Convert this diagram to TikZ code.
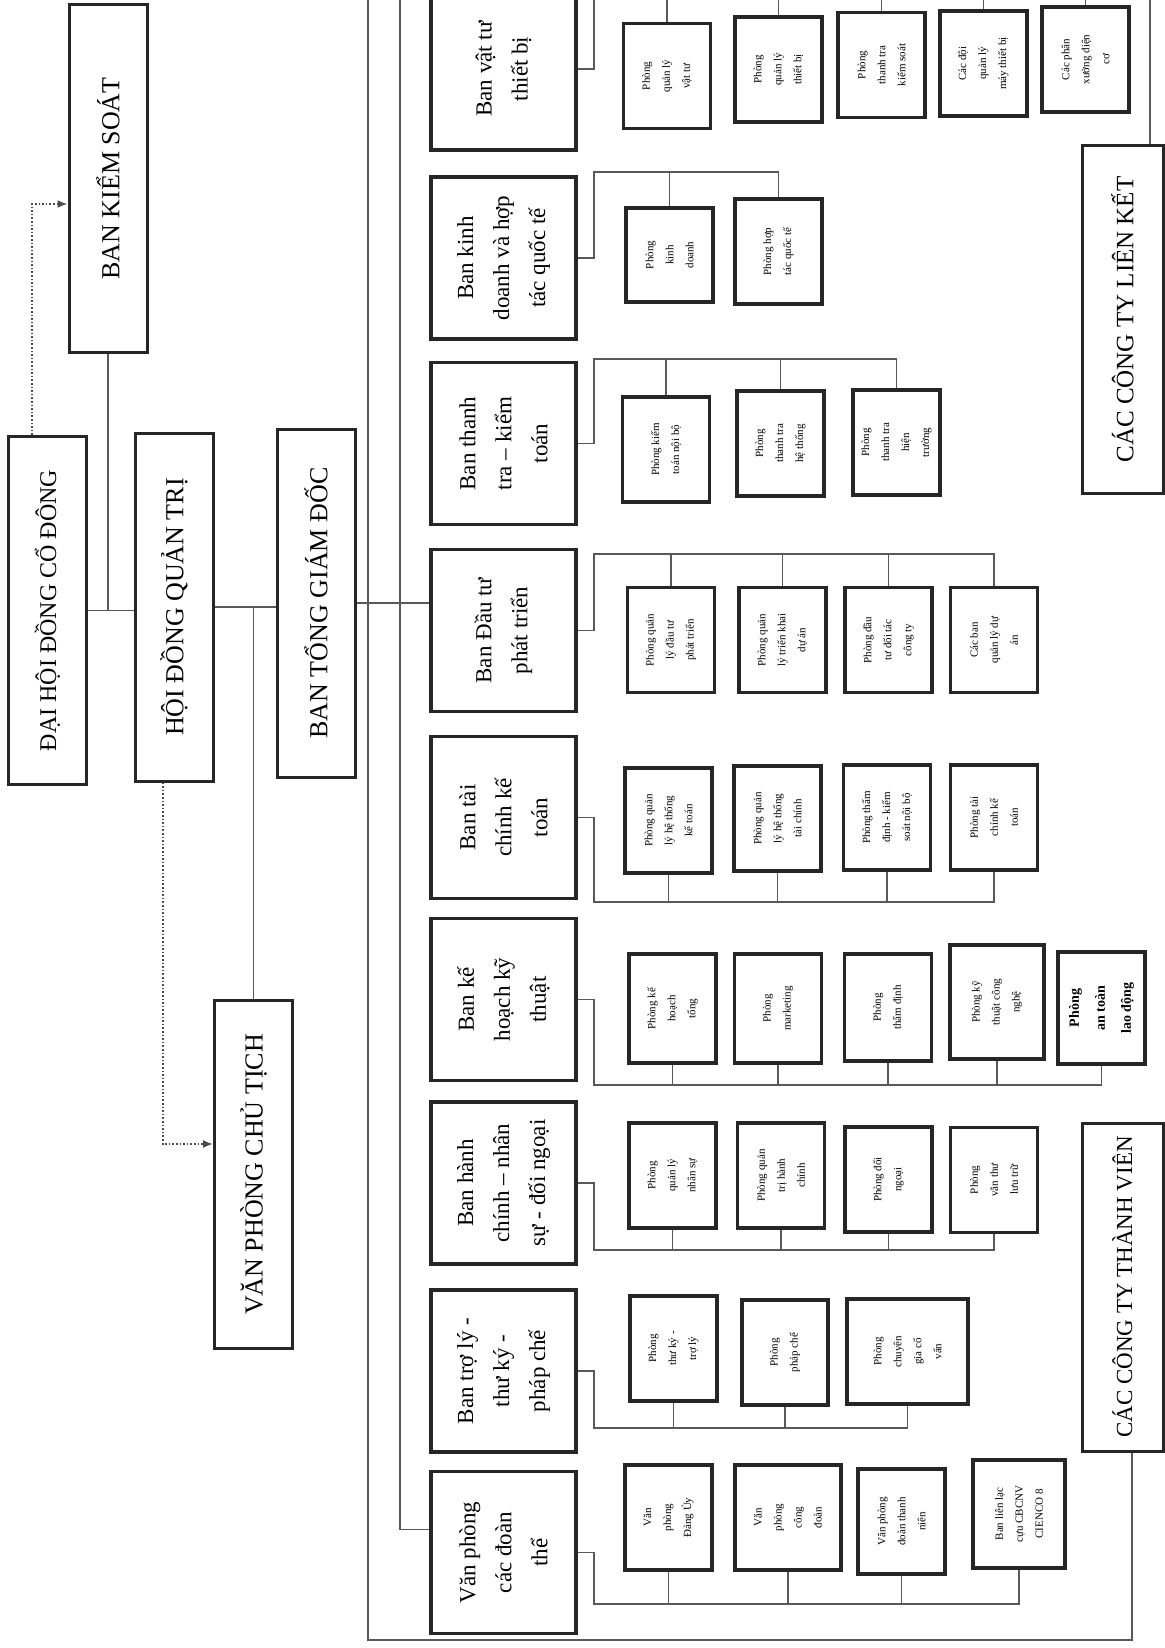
\documentclass[tikz,border=0pt]{standalone}
\usepackage{fontspec}
\setmainfont{Liberation Serif}
\usetikzlibrary{arrows.meta,calc}

\begin{document}
\begin{tikzpicture}[x=0.5pt, y=-0.5pt,
      lvl/.style={draw=black!85, line width=1.5pt, fill=white, rotate=90,
                  minimum width=174pt, minimum height=39pt, inner sep=2pt,
                  font=\fontsize{13}{16}\selectfont, align=center},
      ban/.style={draw=black!85, line width=1.6pt, fill=white, rotate=90,
                  minimum width=81pt, minimum height=72.5pt, inner sep=2pt,
                  font=\fontsize{11.5}{18}\selectfont, align=center},
      sub/.style={draw=black!85, line width=1.6pt, fill=white, rotate=90,
                  minimum width=52.5pt, minimum height=43.5pt, inner sep=1pt,
                  font=\fontsize{5.5}{10}\selectfont, align=center},
      conn/.style={draw=black!65, line width=0.6pt},
      dotarr/.style={draw=black!70, line width=0.8pt, densely dotted,
                     -{Latex[length=5pt,width=4pt]}}
  ]
    \useasboundingbox (0,0) rectangle (1165,1648);

    % cap cao
    \node[lvl] (bks)  at (108,178.5)   {BAN KIỂM SOÁT};
    \node[lvl, font=\fontsize{12}{15}\selectfont] (dhcd) at (47.5,610.5) {ĐẠI HỘI ĐỒNG CỔ ĐÔNG};
    \node[lvl] (hdqt) at (174,607)     {HỘI ĐỒNG QUẢN TRỊ};
    \node[lvl] (btgd) at (316,603)     {BAN TỔNG GIÁM ĐỐC};
    \node[lvl] (vpct) at (253.5,1174.5) {VĂN PHÒNG CHỦ TỊCH};
    \node[lvl, minimum height=40.5pt, font=\fontsize{12.5}{15}\selectfont] (ctlk) at (1122.5,319.5) {CÁC CÔNG TY LIÊN KẾT};
    \node[lvl, minimum width=164pt, minimum height=40.5pt, font=\fontsize{11.5}{15}\selectfont] (cttv) at (1122.5,1287) {CÁC CÔNG TY THÀNH VIÊN};

    % cac ban
    \node[ban] (b1) at (503.5,69)     {Ban vật tư\\ thiết bị};
    \node[ban] (b2) at (503.5,258)    {Ban kinh\\ doanh và hợp\\ tác quốc tế};
    \node[ban] (b3) at (503.5,443.5)  {Ban thanh\\ tra – kiểm\\ toán};
    \node[ban] (b4) at (503.5,630.5)  {Ban Đầu tư\\ phát triển};
    \node[ban] (b5) at (503.5,817.5)  {Ban tài\\ chính kế\\ toán};
    \node[ban] (b6) at (503.5,999.5)  {Ban kế\\ hoạch kỹ\\ thuật};
    \node[ban] (b7) at (503.5,1183)   {Ban hành\\ chính – nhân\\ sự - đối ngoại};
    \node[ban] (b8) at (503.5,1371)   {Ban trợ lý -\\ thư ký -\\ pháp chế};
    \node[ban] (b9) at (503.5,1552.5) {Văn phòng\\ các đoàn\\ thể};

    % phong ban vat tu
    \node[sub] (vt1) at (667,76)      {Phòng\\ quản lý\\ vật tư};
    \node[sub] (vt2) at (778.5,69.5)  {Phòng\\ quản lý\\ thiết bị};
    \node[sub] (vt3) at (881.5,65)    {Phòng\\ thanh tra\\ kiểm soát};
    \node[sub] (vt4) at (983.5,63.5)  {Các đội\\ quản lý\\ máy thiết bị};
    \node[sub] (vt5) at (1085.5,59.5) {Các phân\\ xưởng điện\\ cơ};
    % kinh doanh
    \node[sub, minimum width=47pt] (kd1) at (669.5,255) {Phòng\\ kinh\\ doanh};
    \node[sub] (kd2) at (778.5,251.5) {Phòng hợp\\ tác quốc tế};
    % thanh tra
    \node[sub] (tt1) at (666,449.5)   {Phòng kiểm\\ toán nội bộ};
    \node[sub] (tt2) at (780.5,443.5) {Phòng\\ thanh tra\\ hệ thống};
    \node[sub] (tt3) at (896.5,442.5) {Phòng\\ thanh tra\\ hiện\\ trường};
    % dau tu
    \node[sub] (dt1) at (671,640)     {Phòng quản\\ lý đầu tư\\ phát triển};
    \node[sub] (dt2) at (782.5,640)   {Phòng quản\\ lý triển khai\\ dự án};
    \node[sub] (dt3) at (888.5,640)   {Phòng đầu\\ tư đối tác\\ công ty};
    \node[sub] (dt4) at (994,640)     {Các ban\\ quản lý dự\\ án};
    % tai chinh
    \node[sub] (tc1) at (668.5,820.5) {Phòng quản\\ lý hệ thống\\ kế toán};
    \node[sub] (tc2) at (777.5,818.5) {Phòng quản\\ lý hệ thống\\ tài chính};
    \node[sub] (tc3) at (887,817.5)   {Phòng thẩm\\ định - kiểm\\ soát nội bộ};
    \node[sub] (tc4) at (994,817.5)   {Phòng tài\\ chính kế\\ toán};
    % ke hoach
    \node[sub, minimum width=54.5pt] (kh1) at (672.5,1008.5) {Phòng kế\\ hoạch\\ tổng};
    \node[sub, minimum width=54.5pt] (kh2) at (778,1008.5)   {Phòng\\ marketing};
    \node[sub, minimum width=53.5pt] (kh3) at (888,1007.5)   {Phòng\\ thẩm định};
    \node[sub, minimum width=57pt, minimum height=47pt] (kh4) at (997,1002) {Phòng kỹ\\ thuật công\\ nghệ};
    \node[sub, minimum width=56pt, font=\fontsize{7}{13}\selectfont\bfseries] (kh5) at (1101.5,1008) {Phòng\\ an toàn\\ lao động};
    % hanh chinh
    \node[sub] (hc1) at (672.5,1175.5) {Phòng\\ quản lý\\ nhân sự};
    \node[sub] (hc2) at (781,1175.5)   {Phòng quản\\ trị hành\\ chính};
    \node[sub] (hc3) at (888.5,1179.5) {Phòng đối\\ ngoại};
    \node[sub] (hc4) at (994,1180)     {Phòng\\ văn thư\\ lưu trữ};
    % tro ly
    \node[sub] (tl1) at (673.5,1348.5) {Phòng\\ thư ký -\\ trợ lý};
    \node[sub, minimum height=43pt] (tl2) at (785,1352.5) {Phòng\\ pháp chế};
    \node[sub, minimum height=60.5pt] (tl3) at (907.5,1351.5) {Phòng\\ chuyên\\ gia cố\\ vấn};
    % doan the
    \node[sub] (dth1) at (668.5,1517.5) {Văn\\ phòng\\ Đảng Ủy};
    \node[sub, minimum height=53pt] (dth2) at (788,1517.5) {Văn\\ phòng\\ công\\ đoàn};
    \node[sub] (dth3) at (901.5,1521.5) {Văn phòng\\ đoàn thanh\\ niên};
    \node[sub, minimum width=54pt, minimum height=46pt] (dth4) at (1019,1514) {Ban liên lạc\\ cựu CBCNV\\ CIENCO 8};

    % noi cap cao
    \draw[conn] (dhcd.south) -- (dhcd.south -| hdqt.north);
    \draw[conn] (bks.west) -- (bks.west |- dhcd.south);
    \draw[conn] (hdqt.south) -- (hdqt.south -| btgd.north);
    \draw[conn] (vpct.east) -- (vpct.east |- hdqt.south);
    \draw[conn] (btgd.south) -- (btgd.south -| b4.north);
    \coordinate (dA) at (32,204);
    \coordinate (dB) at (163,1144);
    \draw[dotarr] (dhcd.east -| dA) |- (bks.north |- dA);
    \draw[dotarr] (hdqt.west -| dB) |- (vpct.north |- dB);

    % khung
    \coordinate (frTL) at (368,-10);
    \coordinate (frBL) at (368,1640);
    \coordinate (frBR) at (1132,1640);
    \coordinate (frTR) at (1150,-10);
    \coordinate (busL) at (400,-10);
    \draw[conn] (frTL) -- (frBL) -- (frBR) -- (frBR |- cttv.west);
    \draw[conn] (frTR) -- (frTR |- ctlk.east);
    \draw[conn] (busL) |- ($(b9.north east)!0.36!(b9.north west)$);

    % thanh noi tren
    \coordinate (bus1) at (594,-10);
    \coordinate (bus2) at (594,172);
    \coordinate (bus3) at (594,359);
    \coordinate (bus4) at (594,554);
    \draw[conn] (b1.south) -| (bus1) -| (vt5.east);
    \foreach \n in {vt1,vt2,vt3,vt4} \draw[conn] (\n.east) -- (\n.east |- bus1);
    \draw[conn] (b2.south) -| (bus2) -| (kd2.east);
    \draw[conn] (kd1.east) -- (kd1.east |- bus2);
    \draw[conn] (b3.south) -| (bus3) -| (tt3.east);
    \foreach \n in {tt1,tt2} \draw[conn] (\n.east) -- (\n.east |- bus3);
    \draw[conn] (b4.south) -| (bus4) -| (dt4.east);
    \foreach \n in {dt1,dt2,dt3} \draw[conn] (\n.east) -- (\n.east |- bus4);

    % thanh noi duoi
    \coordinate (bus5) at (594,902);
    \coordinate (bus6) at (594,1085);
    \coordinate (bus7) at (594,1250);
    \coordinate (bus8) at (594,1428);
    \coordinate (bus9) at (594,1604);
    \draw[conn] (b5.south) -| (bus5) -| (tc4.west);
    \foreach \n in {tc1,tc2,tc3} \draw[conn] (\n.west) -- (\n.west |- bus5);
    \draw[conn] (b6.south) -| (bus6) -| (kh5.west);
    \foreach \n in {kh1,kh2,kh3,kh4} \draw[conn] (\n.west) -- (\n.west |- bus6);
    \draw[conn] (b7.south) -| (bus7) -| (hc4.west);
    \foreach \n in {hc1,hc2,hc3} \draw[conn] (\n.west) -- (\n.west |- bus7);
    \draw[conn] (b8.south) -| (bus8) -| (tl3.west);
    \foreach \n in {tl1,tl2} \draw[conn] (\n.west) -- (\n.west |- bus8);
    \draw[conn] (b9.south) -| (bus9) -| (dth4.west);
    \foreach \n in {dth1,dth2,dth3} \draw[conn] (\n.west) -- (\n.west |- bus9);
  \end{tikzpicture}
\end{document}
